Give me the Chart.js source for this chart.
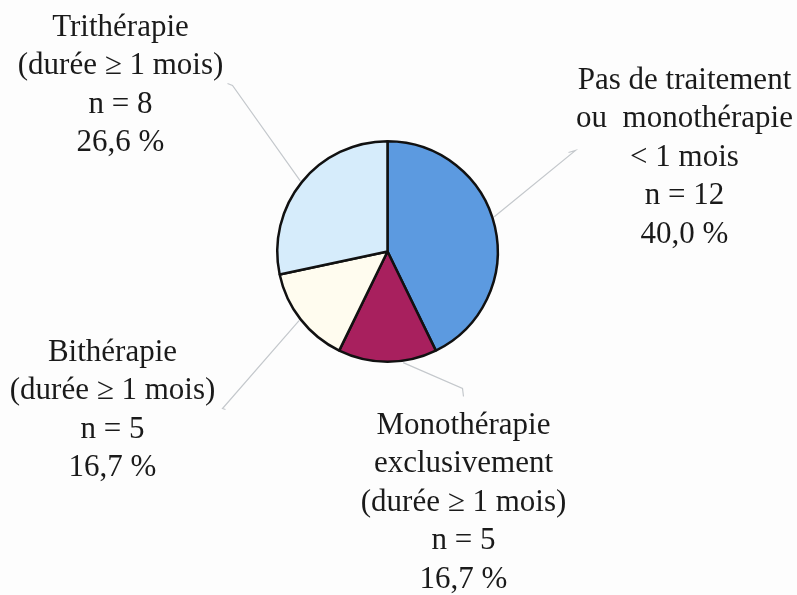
<!DOCTYPE html>
<html>
<head>
<meta charset="utf-8">
<script src="https://cdn.jsdelivr.net/npm/chart.js@4.4.0/dist/chart.umd.min.js"></script>
<style>
  html, body { margin: 0; padding: 0; background: #fdfdfd; }
  #wrap { width: 797px; height: 595px; position: relative; }
</style>
</head>
<body>
<div id="wrap"><canvas id="pie-chart" width="797" height="595"></canvas></div>
<script>
// categories, counts and printed shares
const categories = [
  'Pas de traitement ou monothérapie < 1 mois',
  'Monothérapie exclusivement (durée ≥ 1 mois)',
  'Bithérapie (durée ≥ 1 mois)',
  'Trithérapie (durée ≥ 1 mois)'
];
const counts = [12, 5, 5, 8];
const percents = ['40,0 %', '16,7 %', '16,7 %', '26,6 %'];
// slice sizes as drawn in the picture (degrees of arc)
const sliceShares = [154, 52, 52, 102];

const labelLines = [
  ['Pas de traitement', 'ou  monothérapie', '< 1 mois', 'n = ' + counts[0], percents[0]],
  ['Monothérapie', 'exclusivement', '(durée ≥ 1 mois)', 'n = ' + counts[1], percents[1]],
  ['Bithérapie', '(durée ≥ 1 mois)', 'n = ' + counts[2], percents[2]],
  ['Trithérapie', '(durée ≥ 1 mois)', 'n = ' + counts[3], percents[3]]
];

const colors = ['#5c9ae0', '#a8205e', '#fffcef', '#d6ecfb'];

// label placement relative to the pie centre (text block centre x, first line y)
const labelPos = [
  { dx: 297, dy: -171 },
  { dx: 76, dy: 174 },
  { dx: -275, dy: 101 },
  { dx: -267, dy: -224 }
];
// leader lines: angle on the rim (deg, clockwise from top) then points relative to centre
const leaders = [
  { angle: 72, pts: [[188, -101], [181, -99]] },
  { angle: 172, pts: [[75, 137], [76, 145]] },
  { angle: 232, pts: [[-165, 157], [-162, 158]] },
  { angle: 309, pts: [[-155, -166], [-160, -168]] }
];

const labelPlugin = {
  id: 'sideLabels',
  afterDatasetsDraw(chart) {
    const ctx = chart.ctx;
    const arc = chart.getDatasetMeta(0).data[0];
    const cx = arc.x, cy = arc.y, r = arc.outerRadius;
    ctx.save();
    ctx.strokeStyle = '#c4c8cc';
    ctx.lineWidth = 1.2;
    leaders.forEach(l => {
      const a = (l.angle - 90) * Math.PI / 180;
      ctx.beginPath();
      ctx.moveTo(cx + Math.cos(a) * (r + 2), cy + Math.sin(a) * (r + 2));
      l.pts.forEach(p => ctx.lineTo(cx + p[0], cy + p[1]));
      ctx.stroke();
    });
    ctx.fillStyle = '#1a1a1a';
    ctx.font = '31px "Liberation Serif", "Times New Roman", serif';
    ctx.textAlign = 'center';
    ctx.textBaseline = 'middle';
    labelLines.forEach((lines, i) => {
      const p = labelPos[i];
      lines.forEach((t, j) => {
        ctx.fillText(t, cx + p.dx, cy + p.dy + j * 38.5);
      });
    });
    ctx.restore();
  }
};

const ctx = document.getElementById('pie-chart').getContext('2d');
new Chart(ctx, {
  type: 'pie',
  data: {
    labels: categories,
    datasets: [{
      data: sliceShares,
      backgroundColor: colors,
      borderColor: '#111111',
      borderWidth: 2.5
    }]
  },
  options: {
    responsive: false,
    animation: false,
    layout: {
      padding: { left: 276, right: 298, top: 140, bottom: 232 }
    },
    plugins: {
      legend: { display: false },
      tooltip: { enabled: false }
    }
  },
  plugins: [labelPlugin]
});
</script>
</body>
</html>
